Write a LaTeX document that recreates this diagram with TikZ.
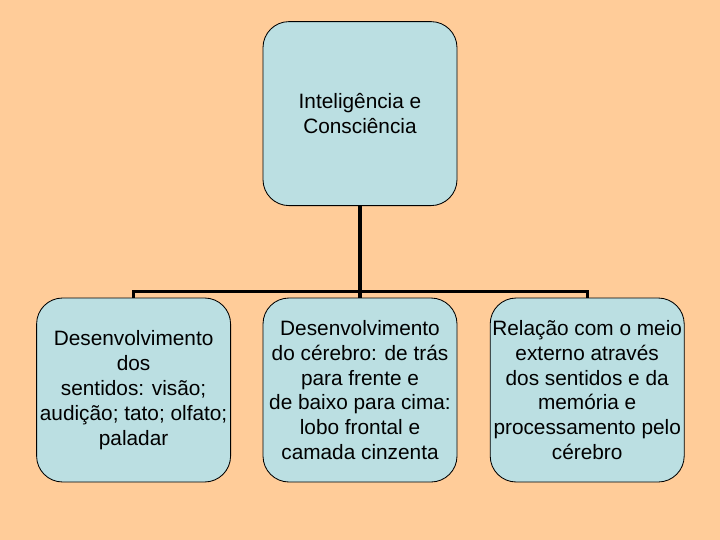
\documentclass[tikz,border=0pt]{standalone}
\usepackage{fontspec}
\setmainfont{Liberation Sans}
\usepackage{xcolor}
\usepackage{tikz}
\usetikzlibrary{positioning}

\definecolor{peach}{HTML}{FFCC99}
\definecolor{paleblue}{HTML}{BBDFE2}

\begin{document}
\begin{tikzpicture}[
  font=\fontsize{14.8}{17.7}\selectfont,
  tbox/.style={draw, line width=0.6pt, fill=paleblue, rounded corners=0.65cm,
               minimum width=4.85cm, minimum height=4.6cm, align=center, inner sep=1pt},
  conn/.style={line width=2.2pt},
]
\useasboundingbox (0,0) rectangle (18,-13.5);
\fill[peach] (0,0) rectangle (18,-13.5);

\node[tbox] (top) at (9, -2.84) {Inteligência e\\Consciência};

\node[tbox] (c1) at (3.34, -9.75)
     {Desenvolvimento\\dos\\sentidos: visão;\\audição; tato; olfato;\\paladar};
\node[tbox] (c2) at (9, -9.75)
     {Desenvolvimento\\do cérebro: de trás\\para frente e\\de baixo para cima:\\lobo frontal e\\camada cinzenta};
\node[tbox] (c3) at (14.68, -9.75)
     {Relação com o meio\\externo através\\dos sentidos e da\\memória e\\processamento pelo\\cérebro};

\coordinate (j) at (9, -7.28);
\draw[conn] (top) -- (j);
\foreach \c in {c1, c2, c3}
  \draw[conn] (j) -| (\c.north);
\end{tikzpicture}
\end{document}
